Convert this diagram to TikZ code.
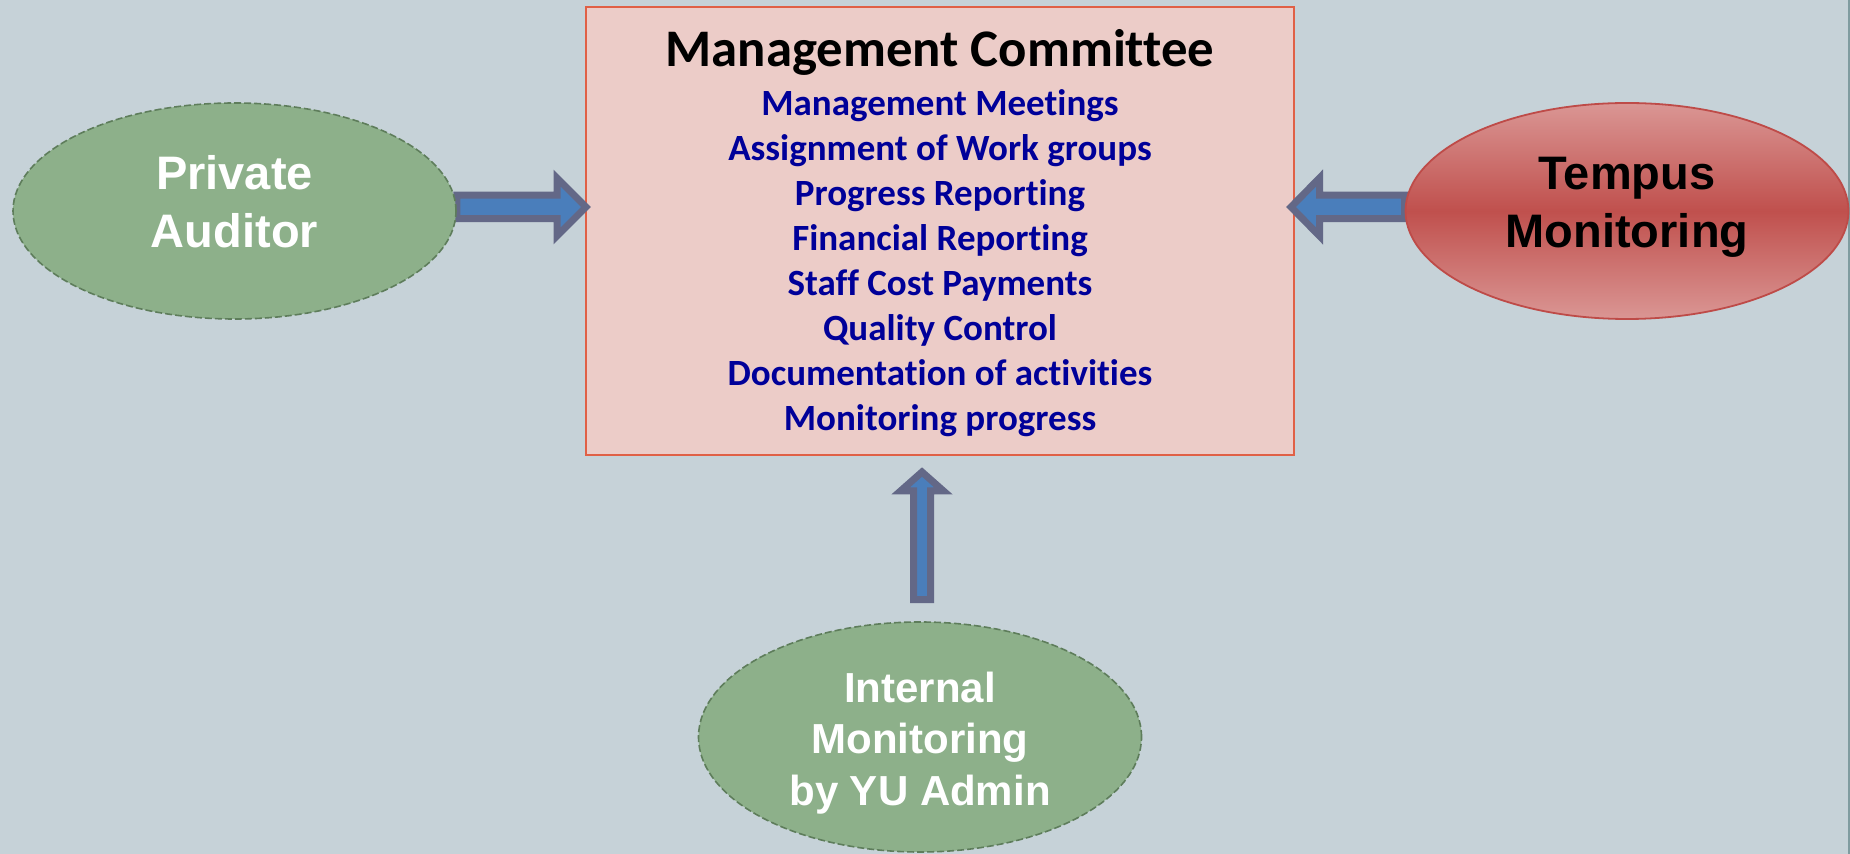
\documentclass[tikz,border=0pt]{standalone}
\usepackage{fontspec}
\setmainfont{Liberation Sans}
\newfontfamily\calfont[Ligatures=NoCommon]{Carlito}
\usetikzlibrary{shapes.geometric,calc}
\definecolor{bgc}{RGB}{198,210,216}
\definecolor{edgec}{RGB}{128,156,160}
\definecolor{greenfill}{RGB}{141,176,138}
\definecolor{greenline}{RGB}{94,125,91}
\definecolor{redmid}{RGB}{192,80,77}
\definecolor{redlight}{RGB}{218,150,148}
\definecolor{redline}{RGB}{190,75,72}
\definecolor{boxfill}{RGB}{236,204,200}
\definecolor{boxline}{RGB}{224,96,70}
\definecolor{itemblue}{RGB}{0,0,153}
\definecolor{arrline}{RGB}{99,104,135}
\definecolor{arrfill}{RGB}{74,126,187}
\pgfdeclarelayer{back}
\pgfdeclarelayer{bg}
\pgfdeclarelayer{arr}
\pgfsetlayers{back,bg,arr,main}
\tikzset{
  mcbox/.style={draw=boxline, fill=boxfill, line width=1pt, minimum width=354pt, minimum height=224pt, inner sep=0pt},
  greenell/.style={ellipse, draw=greenline, fill=greenfill, line width=0.8pt, dash pattern=on 3.5pt off 1.5pt, minimum width=221.5pt, minimum height=108pt, inner sep=0pt},
  redell/.style={ellipse, draw=redline, line width=0.9pt, top color=redlight, bottom color=redlight, middle color=redmid, minimum width=221.5pt, minimum height=108pt, inner sep=0pt},
  elltext/.style={font=\bfseries\fontsize{23.5}{29}\selectfont, align=center, inner sep=0pt},
  titletext/.style={font=\calfont\bfseries\fontsize{26.4}{30}\selectfont, inner sep=0pt, anchor=base},
  itemtext/.style={font=\calfont\bfseries\fontsize{18.5}{22}\selectfont, text=itemblue, inner sep=0pt, anchor=base},
  blockarrow/.style={draw=arrline, fill=arrfill, line width=3.5pt, line join=miter}
}
\begin{document}
\begin{tikzpicture}[x=0.5pt, y=-0.5pt]
\useasboundingbox (0,0) rectangle (1850,854);
\begin{pgfonlayer}{back}
\fill[bgc] (0,0) rectangle (1850,854);
\fill[edgec] (1848,0) rectangle (1850,854);
\end{pgfonlayer}
% management committee box
\begin{pgfonlayer}{bg}
\node[mcbox] (mc) at (940,231) {};
\end{pgfonlayer}
\node[titletext] (mct) at (940,67) {Management Committee};
\foreach \t [count=\i] in {Management Meetings, Assignment of Work groups, Progress Reporting, Financial Reporting, Staff Cost Payments, Quality Control, Documentation of activities, Monitoring progress}
  \node[itemtext] (item\i) at (940,{116+(\i-1)*45}) {\t};
% ellipses
\node[greenell] (pa) at (234.5,211) {};
\node[elltext, text=white, anchor=base] (pat) at (234.5,190) {Private};
\node[elltext, text=white, anchor=base] (pat2) at (234.5,248) {Auditor};
\node[redell] (tm) at (1627,211) {};
\node[elltext, text=black, anchor=base] (tmt) at (1627,190) {Tempus};
\node[elltext, text=black, anchor=base] (tmt2) at (1627,248) {Monitoring};
\node[greenell, minimum height=115pt] (ie) at (920,737) {};
\node[elltext, text=white, font=\bfseries\fontsize{21}{26}\selectfont, anchor=base] (iet1) at (920,702) {Internal};
\node[elltext, text=white, font=\bfseries\fontsize{21}{26}\selectfont, anchor=base] (iet2) at (920,753.5) {Monitoring};
\node[elltext, text=white, font=\bfseries\fontsize{21}{26}\selectfont, anchor=base] (iet3) at (920,805) {by YU Admin};
% arrows
\begin{pgfonlayer}{arr}
\draw[blockarrow]
  ($(pa.east)+(0,-15.75)$) -- ($(mc.west |- pa.east)+(-28,-15.75)$)
  -- ($(mc.west |- pa.east)+(-28,-33)$) -- ($(mc.west |- pa.east)+(1,-4)$)
  -- ($(mc.west |- pa.east)+(-28,25)$) -- ($(mc.west |- pa.east)+(-28,7.75)$)
  -- ($(pa.east)+(0,7.75)$) -- cycle;
\draw[blockarrow]
  ($(tm.west)+(0,-15.75)$) -- ($(mc.east |- tm.west)+(24.5,-15.75)$)
  -- ($(mc.east |- tm.west)+(24.5,-33)$) -- ($(mc.east |- tm.west)+(-4,-4)$)
  -- ($(mc.east |- tm.west)+(24.5,25)$) -- ($(mc.east |- tm.west)+(24.5,7.75)$)
  -- ($(tm.west)+(0,7.75)$) -- cycle;
\draw[blockarrow]
  ($(ie.north)+(-6.5,-21.5)$) -- ($(ie.north |- mc.south)+(-6.5,35)$)
  -- ($(ie.north |- mc.south)+(-19.5,35)$) -- ($(ie.north |- mc.south)+(2,16)$)
  -- ($(ie.north |- mc.south)+(23.5,35)$) -- ($(ie.north |- mc.south)+(10.5,35)$)
  -- ($(ie.north)+(10.5,-21.5)$) -- cycle;
\end{pgfonlayer}
\end{tikzpicture}
\end{document}
